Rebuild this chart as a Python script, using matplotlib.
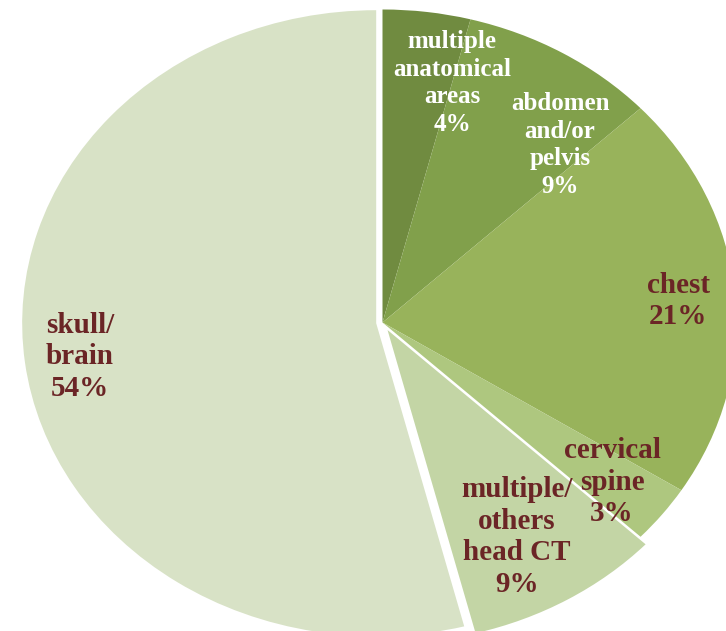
import matplotlib.pyplot as plt
import numpy as np

# CT scan share by anatomical region
labels = ["multiple\nanatomical\nareas", "abdomen\nand/or\npelvis", "chest",
          "cervical\nspine", "multiple/\nothers\nhead CT", "skull/\nbrain"]
shares = [4, 9, 21, 3, 9, 54]

colors = ["#708B40", "#81A04B", "#98B35B", "#AEC77F", "#C3D5A5", "#D8E2C6"]
explode = [0, 0, 0, 0, 0.028, 0.018]
txt_colors = ["white", "white", "#6B2526", "#6B2526", "#6B2526", "#6B2526"]
txt_sizes = [18, 18, 21, 21, 21, 21]
txt_spacing = [1.25, 1.25, 1.22, 1.22, 1.22, 1.22]

# label centres in pixels (x from left, y from top)
lab_px = [(452, 83), (560, 145), (678, 301), (612, 482), (517, 537), (80, 357)]

W, H = 726, 631
cx, cy = 382.5, 322.5
rx, ry = 354.0, 313.0

fig = plt.figure(figsize=(W / 100, H / 100), dpi=100)
ax = fig.add_axes([0, 0, 1, 1])

ax.pie(shares, colors=colors, explode=explode, startangle=90, counterclock=False,
       radius=1, wedgeprops=dict(linewidth=0))

# stretch the pie sideways
ax.set_aspect("auto")
ax.set_xlim(-cx / rx, (W - cx) / rx)
ax.set_ylim(-(H - cy) / ry, cy / ry)
ax.axis("off")

for lab, val, (px, py), c, fs, ls in zip(labels, shares, lab_px, txt_colors,
                                         txt_sizes, txt_spacing):
    ax.text((px - cx) / rx, (cy - py) / ry, f"{lab}\n{val}%", ha="center", va="center",
            multialignment="center", color=c, fontsize=fs, fontweight="bold",
            family="Liberation Serif", linespacing=ls)

fig.savefig("out.png", dpi=100)
